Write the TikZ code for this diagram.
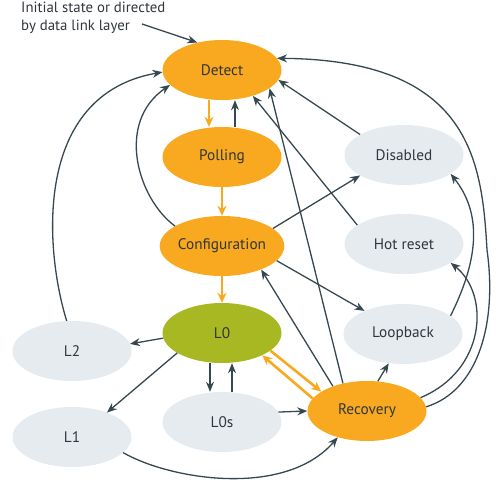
\documentclass[tikz,border=0pt]{standalone}
\usepackage{fontspec}
\setmainfont{PT Sans}
\usetikzlibrary{shapes.geometric,arrows.meta}
\definecolor{sorange}{HTML}{F8A91F}
\definecolor{sgreen}{HTML}{A8B822}
\definecolor{sgray}{HTML}{E5EBEF}
\definecolor{sline}{HTML}{37474F}
\definecolor{stext}{HTML}{30373C}
\begin{document}
\begin{tikzpicture}[x=1pt,y=-1pt,
  state/.style={ellipse, minimum width=119pt, minimum height=60pt, inner sep=0pt,
    font=\fontsize{15.3}{17}\selectfont, text=stext},
  ostate/.style={state, fill=sorange},
  gstate/.style={state, fill=sgray},
  lstate/.style={state, fill=sgreen},
  arr/.style={draw=sline, line width=1.3pt, -{Stealth[length=10pt,width=8pt]}},
  oarr/.style={draw=sorange, line width=2.6pt, -{Stealth[length=10pt,width=9pt]}}]
\useasboundingbox (0,0) rectangle (499,485);

\node[ostate] (det) at (222,70) {Detect};
\node[ostate] (pol) at (222,157) {Polling};
\node[ostate] (cfg) at (222,246) {Configuration};
\node[lstate] (l0) at (222,333) {L0};
\node[gstate] (l0s) at (222,422) {L0s};
\node[gstate] (l2) at (72,351) {L2};
\node[gstate] (l1) at (72,437) {L1};
\node[ostate] (rec) at (367,411) {Recovery};
\node[gstate] (lb) at (403,334) {Loopback};
\node[gstate] (dis) at (404,155) {Disabled};
\node[gstate] (hr) at (404,244) {Hot reset};

\node[anchor=north west, align=left, inner sep=0pt, text=stext,
  font=\fontsize{14.8}{18}\selectfont] (init) at (21,1.5) {Initial state or directed\\by data link layer};
\coordinate (initpt) at (142,24);

\draw[arr] (initpt) -- (det.132);
\draw[oarr] ([xshift=-13pt]det.south) -- ([xshift=-13pt]pol.north);
\draw[arr] ([xshift=13pt]pol.north) -- ([xshift=13pt]det.south);
\draw[oarr] (pol.south) -- (cfg.north);
\draw[oarr] (cfg.south) -- (l0.north);
\draw[arr] ([xshift=-12pt]l0.south) -- ([xshift=-12pt]l0s.north);
\draw[arr] ([xshift=10pt]l0s.north) -- ([xshift=10pt]l0.south);

\draw[arr] (cfg.157) .. controls +(-37,-27) and +(-55,38) .. (det.196);
\draw[arr] (l2.100) .. controls +(-22,-71) and +(-130,23) .. (det.182);
\draw[arr] (cfg.19) -- (dis.205);
\draw[arr] (cfg.345) -- (lb.149);
\draw[arr] (hr.158) -- (det.320);
\draw[arr] (dis.155) -- (det.350);
\draw[arr] (rec.131) -- (det.339);
\draw[arr] (rec.144) -- (cfg.329);
\draw[arr] (l0.185) -- (l2.7);
\draw[arr] (l0.204) -- (l1.35);
\draw[arr] (l0s.10) -- (rec.180);
\draw[oarr] (l0.340) -- (rec.157);
\draw[oarr] (rec.167) -- (l0.331);
\draw[arr] (l1.343) .. controls +(47,27) and +(-53,61) .. (rec.222);
\draw[arr] (rec.70) -- (lb.244);
\draw[arr] (lb.21) .. controls +(30,-60) and +(30,38) .. (dis.338);
\draw[arr] (rec.14) .. controls +(65,-27) and +(40,32) .. (hr.338);
\draw[arr] (rec.4) .. controls (480,390) and (497,320) .. (487,250)
  .. controls (482,160) and (470,60) .. (det.12);
\end{tikzpicture}
\end{document}
